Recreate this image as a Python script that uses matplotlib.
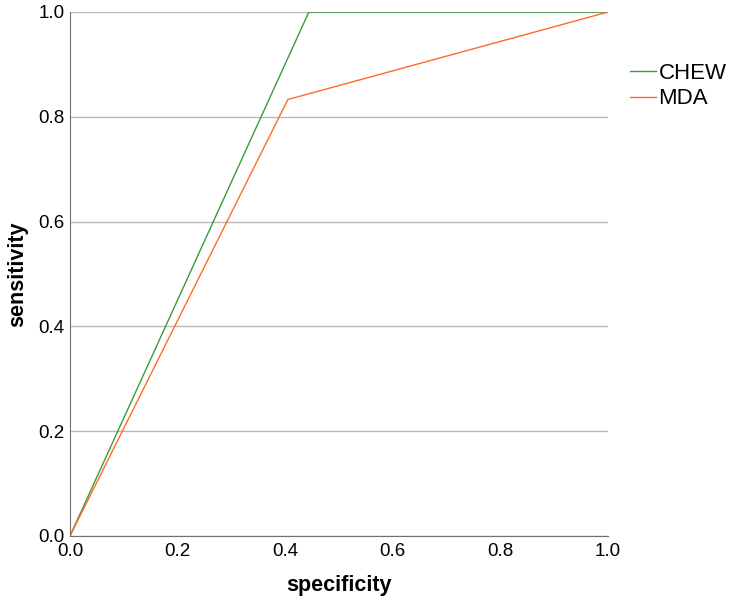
import matplotlib
matplotlib.use("Agg")
import matplotlib.pyplot as plt

plt.rcParams["font.family"] = ["Liberation Sans", "DejaVu Sans"]

chew_x = [0.0, 0.444, 1.0]
chew_y = [0.0, 1.0, 1.0]
mda_x = [0.0, 0.405, 1.0]
mda_y = [0.0, 0.833, 1.0]
ticks = [0.0, 0.2, 0.4, 0.6, 0.8, 1.0]

fig = plt.figure(figsize=(7.31, 6.03), dpi=100)
ax = fig.add_axes([70 / 731, 67 / 603, 538 / 731, 524 / 603])

ax.plot(chew_x, chew_y, color="#3d9a3d", lw=1.0, label="CHEW")
ax.plot(mda_x, mda_y, color="#ff6a2a", lw=1.0, label="MDA")

ax.set_xlim(0, 1)
ax.set_ylim(0, 1)
ax.set_xticks(ticks)
ax.set_yticks(ticks)
ax.set_xticklabels([f"{t:.1f}" for t in ticks], fontsize=13.5)
ax.set_yticklabels([f"{t:.1f}" for t in ticks], fontsize=13.5)
ax.tick_params(axis="x", length=0, pad=5)
ax.tick_params(axis="y", length=0, pad=4)
ax.yaxis.grid(True, color="#b8b8b8", lw=1.0)
ax.set_axisbelow(True)
for s in ["top", "right"]:
    ax.spines[s].set_visible(False)
for s in ["left", "bottom"]:
    ax.spines[s].set_color("#707070")

ax.set_xlabel("specificity", fontsize=15.5, fontweight="bold", labelpad=11)
ax.set_ylabel("sensitivity", fontsize=15.5, fontweight="bold", labelpad=7)

ax.legend(loc="upper left", bbox_to_anchor=(1.0, 0.945), frameon=False,
          fontsize=16, handlelength=1.15, handletextpad=0.12, labelspacing=0.2,
          borderaxespad=0.6)

fig.savefig("out.png", dpi=100)
